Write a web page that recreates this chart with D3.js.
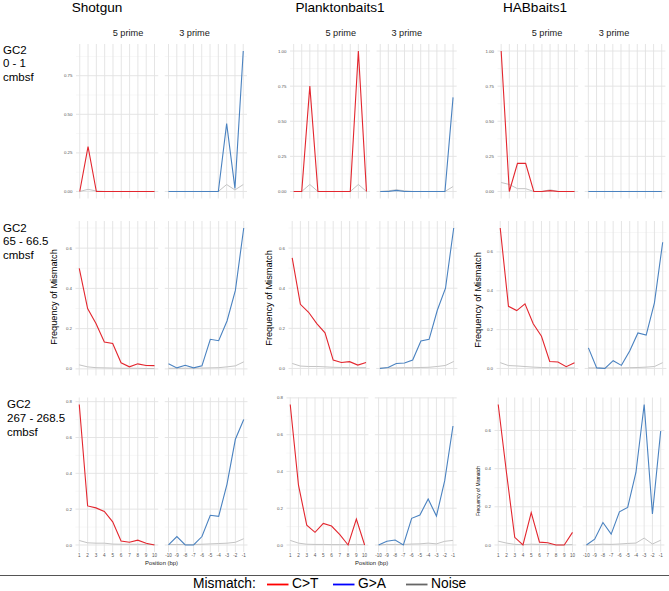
<!DOCTYPE html>
<html><head><meta charset="utf-8">
<script src="https://cdn.jsdelivr.net/npm/d3@7"></script>
<style>
body{margin:0;background:#fff}
svg{display:block;font-family:Arial,"Liberation Sans",sans-serif}
</style>
</head><body>
<svg id="c" width="669" height="591"></svg>
<script>
// ---------------- data ----------------
const columns = ["Shotgun", "Planktonbaits1", "HABbaits1"];
const rowLabels = [["GC2", "0 - 1", "cmbsf"], ["GC2", "65 - 66.5", "cmbsf"], ["GC2", "267 - 268.5", "cmbsf"]];
const strips = ["5 prime", "3 prime"];
const pos5 = [1, 2, 3, 4, 5, 6, 7, 8, 9, 10];
const pos3 = [-10, -9, -8, -7, -6, -5, -4, -3, -2, -1];
const seriesNames = ["C>T", "G>A", "Noise"];
const yTicksRow = [[0, 0.25, 0.5, 0.75, 1.0], [0, 0.2, 0.4, 0.6, 0.8], [0, 0.2, 0.4, 0.6, 0.8]];

// C>T at the 5' end (positions 1..10)
const ct5 = [
  [[0, 0.29, 0, 0, 0, 0, 0, 0, 0, 0],
   [0, 0, 0.75, 0, 0, 0, 0, 0, 1.0, 0],
   [1.0, 0, 0.2, 0.2, 0, 0, 0.006, 0, 0, 0]],
  [[0.50, 0.30, 0.225, 0.134, 0.126, 0.03, 0.01, 0.025, 0.017, 0.016],
   [0.551, 0.32, 0.28, 0.224, 0.178, 0.042, 0.03, 0.034, 0.017, 0.03],
   [0.723, 0.32, 0.298, 0.333, 0.23, 0.166, 0.036, 0.033, 0.009, 0.03]],
  [[0.784, 0.218, 0.207, 0.187, 0.129, 0.022, 0.015, 0.027, 0.01, 0.0],
   [0.764, 0.325, 0.108, 0.069, 0.117, 0.103, 0.056, 0, 0.141, 0],
   [0.736, 0.38, 0.04, 0.0, 0.17, 0.015, 0.012, 0, 0, 0.066]]
];
// Noise at the 5' end
const noise5 = [
  [[0, 0.014, 0.003, 0, 0, 0, 0, 0, 0, 0],
   [0, 0, 0.05, 0, 0, 0, 0, 0, 0.05, 0],
   [0.064, 0.05, 0.02, 0.02, 0, 0, 0.012, 0, 0, 0]],
  [[0.02, 0.01, 0.006, 0.005, 0.004, 0.003, 0.003, 0.003, 0.002, 0.002],
   [0.025, 0.012, 0.01, 0.01, 0.008, 0.006, 0.005, 0.004, 0.004, 0.004],
   [0.03, 0.015, 0.013, 0.01, 0.007, 0.005, 0.004, 0.004, 0.003, 0.003]],
  [[0.025, 0.012, 0.01, 0.01, 0.005, 0.004, 0.004, 0.004, 0.003, 0.003],
   [0.025, 0.01, 0.004, 0.003, 0.003, 0.002, 0.002, 0.002, 0.003, 0.002],
   [0.02, 0.01, 0.003, 0.002, 0.004, 0.003, 0.002, 0.001, 0.001, 0.002]]
];
// G>A at the 3' end (positions -10..-1)
const ga3 = [
  [[0, 0, 0, 0, 0, 0, 0, 0.44, 0.02, 0.91],
   [0, 0, 0.008, 0, 0, 0, 0, 0, 0, 0.67],
   [0, 0, 0, 0, 0, 0, 0, 0, 0, 0]],
  [[0.025, 0.005, 0.018, 0.005, 0.015, 0.147, 0.14, 0.238, 0.39, 0.70],
   [0, 0.005, 0.025, 0.027, 0.042, 0.137, 0.145, 0.29, 0.40, 0.70],
   [0.106, 0.003, 0.0, 0.04, 0.016, 0.09, 0.183, 0.172, 0.338, 0.65]],
  [[0, 0.047, 0, 0, 0.047, 0.166, 0.16, 0.34, 0.59, 0.70],
   [0, 0.02, 0.027, 0, 0.145, 0.163, 0.25, 0.157, 0.35, 0.647],
   [0, 0.03, 0.118, 0.057, 0.174, 0.197, 0.38, 0.736, 0.162, 0.597]]
];
// Noise at the 3' end
const noise3 = [
  [[0, 0, 0, 0, 0, 0, 0, 0.045, 0.01, 0.045],
   [0, 0.005, 0.012, 0.005, 0, 0, 0, 0, 0, 0.035],
   [0, 0, 0, 0, 0, 0, 0, 0, 0, 0]],
  [[0.003, 0.003, 0.003, 0.003, 0.004, 0.005, 0.006, 0.01, 0.015, 0.035],
   [0.003, 0.003, 0.003, 0.004, 0.004, 0.005, 0.006, 0.01, 0.015, 0.035],
   [0.003, 0.003, 0.003, 0.003, 0.003, 0.004, 0.005, 0.007, 0.01, 0.03]],
  [[0.003, 0.003, 0.003, 0.003, 0.004, 0.006, 0.008, 0.01, 0.015, 0.035],
   [0, 0.003, 0.003, 0.003, 0.005, 0.006, 0.01, 0.006, 0.02, 0.025],
   [0, 0.002, 0.004, 0.003, 0.005, 0.008, 0.01, 0.036, 0.005, 0.025]]
];

// ---------------- styles / layout ----------------
const plotColors = {"C>T": "#e3262e", "G>A": "#4a82c0", "Noise": "#c4c4c4"};
const legendColors = {"C>T": "#ff0000", "G>A": "#0000ff", "Noise": "#666666"};
const panelL = [[76, 290, 497.5], [75.5, 288.5, 496.5], [75.5, 286.5, 494.5]];
const panelR = [[247, 456.7, 665.4], [247.5, 457.4, 666.4], [247.5, 456.7, 664.4]];
const panelT = [44, 221, 397.5];
const panelB = [198.5, 375.5, 552];
const GAP = 6.5;
const stripX = [[128, 194.5], [340.7, 406.7], [547, 614]];
const titleX = [97, 340, 535];
const rowLabelX = [3, 3, 7];
const rowLabelY = [53.5, 231.5, 408];

const svg = d3.select("#c");

// column titles
svg.selectAll("text.coltitle").data(columns).join("text")
  .attr("class", "coltitle")
  .attr("x", (d, i) => titleX[i]).attr("y", 12)
  .attr("text-anchor", "middle").attr("font-size", 13.6).attr("fill", "#000")
  .text(d => d);

// row labels
rowLabels.forEach((lines, r) => {
  const t = svg.append("text").attr("font-size", 11.5).attr("fill", "#000");
  lines.forEach((ln, k) => {
    t.append("tspan").attr("x", rowLabelX[r]).attr("y", rowLabelY[r] + k * 13.8).text(ln);
  });
});

const fmtRow = [d3.format(".2f"), d3.format(".1f"), d3.format(".1f")];

for (let r = 0; r < 3; r++) {
  for (let c = 0; c < 3; c++) {
    const L = panelL[r][c], R = panelR[r][c], T = panelT[r], B = panelB[r];
    const w = (R - L - GAP) / 2;
    const x5 = d3.scaleLinear().domain([0.55, 10.45]).range([L, L + w]);
    const x3 = d3.scaleLinear().domain([-10.45, -0.55]).range([L + w + GAP, R]);
    const all = [].concat(ct5[r][c], noise5[r][c], ga3[r][c], noise3[r][c]);
    const mn = d3.min(all), mx = d3.max(all);
    const ext = (mx - mn) * 0.05;
    const y = d3.scaleLinear().domain([mn - ext, mx + ext]).range([B, T]);
    const [d0, d1] = y.domain();
    const majors = yTicksRow[r].filter(v => v >= d0 && v <= d1);
    const step = yTicksRow[r][1] - yTicksRow[r][0];
    const minors = yTicksRow[r].map(v => v + step / 2).filter(v => v >= d0 && v <= d1);

    const g = svg.append("g");
    const subs = [{x: x5, pos: pos5, sig: ct5[r][c], noise: noise5[r][c], name: "C>T"},
                  {x: x3, pos: pos3, sig: ga3[r][c], noise: noise3[r][c], name: "G>A"}];
    subs.forEach(s => {
      const [xa, xb] = s.x.range();
      g.selectAll(null).data(minors).join("line")
        .attr("x1", xa).attr("x2", xb).attr("y1", d => y(d)).attr("y2", d => y(d))
        .attr("stroke", "#f1f1f1").attr("stroke-width", 0.6);
      g.selectAll(null).data(majors).join("line")
        .attr("x1", xa).attr("x2", xb).attr("y1", d => y(d)).attr("y2", d => y(d))
        .attr("stroke", "#e2e2e2").attr("stroke-width", 0.9);
      g.selectAll(null).data(s.pos).join("line")
        .attr("x1", d => s.x(d)).attr("x2", d => s.x(d)).attr("y1", T).attr("y2", B)
        .attr("stroke", "#e2e2e2").attr("stroke-width", 0.9);
      const line = d3.line().x((d, i) => s.x(s.pos[i])).y(d => y(d));
      g.append("path").attr("d", line(s.noise)).attr("fill", "none")
        .attr("stroke", plotColors["Noise"]).attr("stroke-width", 1);
      g.append("path").attr("d", line(s.sig)).attr("fill", "none")
        .attr("stroke", plotColors[s.name]).attr("stroke-width", 1.1);

      if (r === 2) {
        g.selectAll(null).data(s.pos).join("text")
          .attr("x", d => s.x(d)).attr("y", B + 4.6)
          .attr("text-anchor", "middle").attr("font-size", 4.6).attr("fill", "#555")
          .text(d => d);
      }
    });

    g.selectAll(null).data(majors).join("text")
      .attr("x", L - 3.5).attr("y", d => y(d)).attr("dy", "0.35em")
      .attr("text-anchor", "end").attr("font-size", 4.4).attr("fill", "#555")
      .text(d => fmtRow[r](d));

    if (r === 0) {
      strips.forEach((st, k) => {
        g.append("text").attr("x", stripX[c][k]).attr("y", 36)
          .attr("text-anchor", "middle").attr("font-size", 9.2).attr("fill", "#1a1a1a").text(st);
      });
    }
    if (r === 1) {
      const ytx = [57, 272, 481][c], yty = [297, 298, 300][c];
      g.append("text").attr("transform", `translate(${ytx},${yty}) rotate(-90)`)
        .attr("text-anchor", "middle").attr("font-size", 9.2).attr("fill", "#000")
        .text("Frequency of Mismatch");
    }
    if (r === 2 && c === 2) {
      g.append("text").attr("transform", `translate(480,491) rotate(-90)`)
        .attr("text-anchor", "middle").attr("font-size", 4.8).attr("fill", "#000")
        .text("Frequency of Mismatch");
    }
    if (r === 2 && c < 2) {
      g.append("text").attr("x", (L + R) / 2).attr("y", 564.5)
        .attr("text-anchor", "middle").attr("font-size", 5.9).attr("fill", "#222")
        .text("Position (bp)");
    }
  }
}

// legend
svg.append("line").attr("x1", 0).attr("x2", 669).attr("y1", 575.5).attr("y2", 575.5)
  .attr("stroke", "#555").attr("stroke-width", 1);
svg.append("text").attr("x", 193).attr("y", 588).attr("font-size", 13.8).attr("fill", "#000").text("Mismatch:");
const keyX = [267, 333, 406];
seriesNames.forEach((s, i) => {
  svg.append("line").attr("x1", keyX[i]).attr("x2", keyX[i] + 21.5)
    .attr("y1", 584.5).attr("y2", 584.5)
    .attr("stroke", legendColors[s]).attr("stroke-width", 1.8);
  svg.append("text").attr("x", keyX[i] + 25).attr("y", 588)
    .attr("font-size", 13.8).attr("fill", "#000").text(s);
});
</script>
</body></html>
